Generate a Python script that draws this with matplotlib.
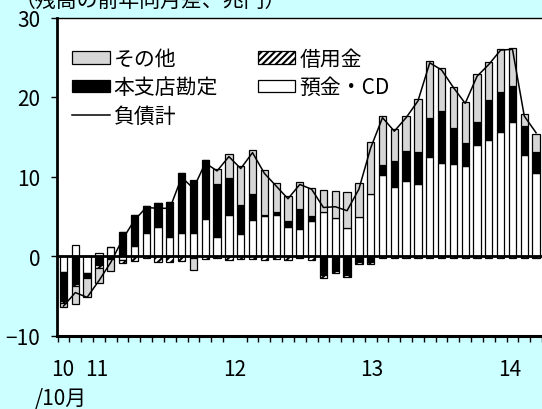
import matplotlib
matplotlib.use("Agg")
import matplotlib.pyplot as plt
from matplotlib.patches import Patch
from matplotlib.lines import Line2D
import numpy as np

plt.rcParams['font.family'] = ['Noto Sans CJK JP', 'DejaVu Sans']
plt.rcParams['hatch.linewidth'] = 1.5

# 月次（1998/10～）、前年同月差、兆円
dep = [-1.95, 1.4, -2.1, 0.35, 1.1, -0.5, 1.3, 2.9, 3.6, 2.45,
       2.9, 2.9, 4.6, 2.35, 5.1, 2.75, 4.55, 5.05, 5.2, 3.7,
       3.4, 4.45, 5.5, 4.8, 3.5, 4.85, 7.8, 10.2, 8.65, 9.4,
       9.05, 12.5, 11.7, 11.55, 11.35, 13.9, 14.65, 15.65, 16.9, 12.75, 10.5]   # 預金・CD
hq = [-3.65, -3.5, -0.7, -1.15, -0.4, 3.0, 3.85, 3.45, 3.05, 4.35,
      7.6, 6.7, 7.5, 6.7, 4.7, 3.65, 3.3, 0.1, 0.3, 0.7,
      2.5, 0.55, -2.45, -1.85, -2.4, -0.75, -0.75, 1.3, 3.25, 3.85,
      4.0, 4.8, 6.6, 4.6, 2.85, 3.0, 5.0, 4.95, 4.5, 3.65, 2.6]   # 本支店勘定
bor = [-0.3, -0.3, 0.0, -0.3, 0.0, -0.4, -0.6, -0.3, -0.7, -0.8,
       -0.6, -0.3, -0.4, -0.3, -0.45, -0.35, -0.4, -0.45, -0.4, -0.45,
       -0.3, -0.45, -0.3, -0.3, -0.2, -0.3, -0.3, -0.3, -0.3, -0.3,
       -0.3, -0.3, -0.3, -0.3, -0.3, -0.3, -0.3, -0.3, -0.3, -0.3, -0.3]   # 借用金
oth = [-0.55, -2.3, -2.3, -1.9, -1.45, 0.0, 0.0, 0.0, 0.0, 0.0,
       0.0, -1.4, 0.0, 1.9, 3.05, 4.95, 5.5, 5.65, 3.65, 3.2,
       3.4, 3.55, 2.85, 3.4, 4.5, 4.3, 6.6, 6.15, 4.05, 4.4,
       6.7, 7.25, 5.3, 5.1, 5.2, 6.0, 4.75, 5.5, 4.8, 1.45, 2.2]   # その他
total = [-6.3, -4.6, -5.2, -3.1, -0.8, 2.1, 4.5, 6.1, 6.0, 6.0,
         9.9, 8.5, 11.7, 10.7, 12.5, 11.0, 13.0, 10.4, 8.8, 7.2,
         9.0, 8.4, 6.1, 6.2, 5.7, 8.4, 13.6, 17.4, 15.7, 17.4,
         19.5, 24.3, 23.4, 21.2, 19.2, 22.6, 24.1, 25.9, 26.0, 17.6, 15.5]   # 負債計
xlabels = ["10", "11", "12", "13", "14"]
xlabel_pos = [-0.1, 2.85, 14.5, 26.1, 37.75]

fig = plt.figure(figsize=(5.42, 4.10), dpi=100)
fig.patch.set_facecolor('#CCFFFF')
ax = fig.add_axes([57/542, 73.5/410, 1-57/542, 318/410])

x = np.arange(len(dep))
pos = np.zeros(len(x)); neg = np.zeros(len(x))
series = [(dep, 'white', None), (hq, 'black', None), (bor, 'white', '/////'), (oth, '#D6D6D6', None)]
for vals, col, hat in series:
    v = np.array(vals)
    bot = np.where(v >= 0, pos, neg)
    ax.bar(x, v, 0.62, bottom=bot, color=col, edgecolor='black', linewidth=0.9, hatch=hat, zorder=2)
    pos = pos + np.where(v >= 0, v, 0); neg = neg + np.where(v < 0, v, 0)
ax.plot(x, total, color='black', lw=1.1, zorder=3)
ax.axhline(0, color='black', lw=2, zorder=4)

ax.set_xlim(-0.55, 39.85); ax.set_ylim(-10, 30)
ax.set_yticks([-10, 0, 10, 20, 30])
ax.set_yticklabels(["\u221210", "0", "10", "20", "30"], fontsize=15)
ax.tick_params(axis='y', direction='out', length=4, width=1, pad=8)
ax.set_xticks(xlabel_pos); ax.set_xticklabels(xlabels, fontsize=15)
ax.set_xticks(np.arange(-0.5, 41, 1), minor=True)
ax.tick_params(axis='x', which='major', length=0, pad=16)
ax.tick_params(axis='x', which='minor', direction='out', length=4, width=1)
ax.spines['right'].set_visible(False)
ax.spines['left'].set_linewidth(2); ax.spines['bottom'].set_linewidth(2.2)
ax.spines['top'].set_linewidth(1)

hdl = [Patch(facecolor='#D6D6D6', edgecolor='black', lw=0.9),
       Patch(facecolor='black', edgecolor='black', lw=0.9),
       Line2D([], [], color='black', lw=1.1),
       Patch(facecolor='white', edgecolor='black', lw=0.9, hatch='/////'),
       Patch(facecolor='white', edgecolor='black', lw=0.9)]
lab = ["その他", "本支店勘定", "負債計", "借用金", "預金・CD"]
ax.legend(hdl, lab, ncol=2, frameon=False, loc='upper left', bbox_to_anchor=(72/542, 1-49/410),
          bbox_transform=fig.transFigure, fontsize=15, handlelength=1.8, handleheight=0.55,
          handletextpad=0.2, labelspacing=0.3, columnspacing=1.9, borderpad=0, borderaxespad=0)

fig.text(15/542, 1-1/410, "（残高の前年同月差、兆円）", fontsize=15, va='center', ha='left')
fig.text(35/542, 1-399/410, "/10月", fontsize=15, va='center', ha='left')

fig.savefig("out.png", dpi=100, facecolor=fig.get_facecolor())
